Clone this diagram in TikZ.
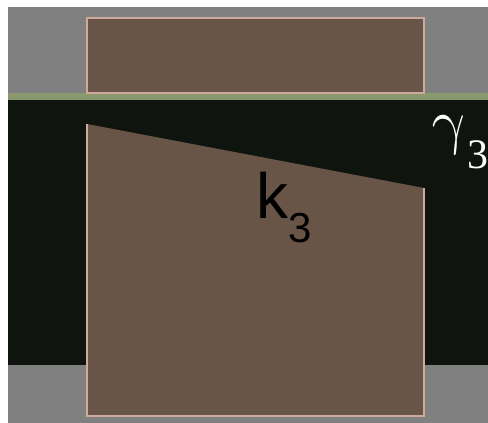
\documentclass[tikz,border=0pt]{standalone}
\usepackage{fix-cm}
\usepackage{fontspec}
\setmainfont{Liberation Sans}
\newfontfamily\serifnum{Liberation Serif}
\definecolor{bggray}{RGB}{128,128,128}
\definecolor{darkfill}{RGB}{16,20,15}
\definecolor{greenband}{RGB}{138,152,110}
\definecolor{brownfill}{RGB}{104,85,72}
\definecolor{pinkedge}{RGB}{205,170,155}
\tikzset{
    brownbox/.style={fill=brownfill, draw=pinkedge, line width=1.5pt},
    bigtext/.style={anchor=base west, inner sep=0pt, font=\fontsize{64}{64}\selectfont},
    subtext/.style={anchor=base west, inner sep=0pt, font=\fontsize{42}{42}\selectfont}
}

\begin{document}
\begin{tikzpicture}[x=1pt, y=-1pt]
                \useasboundingbox (0, 0) rectangle (488, 423);
                \fill[white] (0, 0) rectangle (488, 423);
                \fill[bggray] (8, 7) rectangle (488, 423);
                \fill[greenband] (8, 93) rectangle (488, 100);
                \fill[darkfill] (8, 100) rectangle (488, 365);
                \draw[brownbox] (87, 18) rectangle (424, 93);
                \fill[brownfill] (87, 124) -- (424, 188) -- (424, 416) -- (87, 416) -- cycle;
                \draw[pinkedge, line width=1.5pt] (87, 124) -- (87, 416) -- (424, 416) -- (424, 188);
                \node[bigtext] (kay) at (256, 218) {k};
                \node[subtext] (kaysub) at (288, 242) {3};
                \node[bigtext, font=\fontsize{62}{62}\selectfont, text=white, xslant=-0.15] (gam) at (434, 142) {$\gamma$};
                \node[subtext, font=\fontsize{42}{42}\serifnum, text=white] (gamsub) at (467, 168) {3};
            \end{tikzpicture}
\end{document}
